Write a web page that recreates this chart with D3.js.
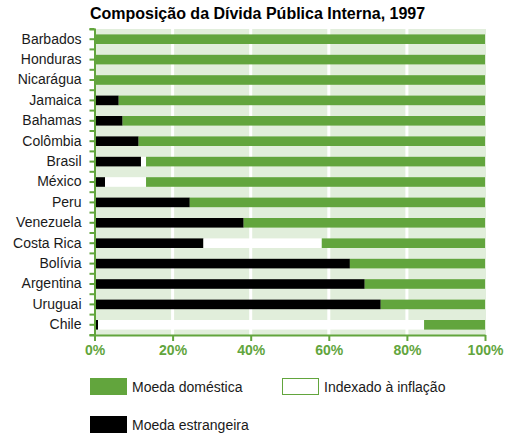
<!DOCTYPE html>
<html lang="pt">
  <head>
    <meta charset="UTF-8" />
    <title>Composição da Dívida Pública Interna, 1997</title>
    <script src="https://d3js.org/d3.v7.min.js"></script>
    <style>
      body {
        margin: 0;
        padding: 0;
        background: #ffffff;
        font-family: "Liberation Sans", Arial, sans-serif;
      }
    </style>
  </head>
  <body>
    <div id="chart"></div>
    <script>
      // data (percent of total)
      const countries = [
        "Barbados", "Honduras", "Nicarágua", "Jamaica", "Bahamas",
        "Colômbia", "Brasil", "México", "Peru", "Venezuela",
        "Costa Rica", "Bolívia", "Argentina", "Uruguai", "Chile"
      ];
      const foreign = [0, 0, 0, 6.2, 7.2, 11.3, 11.9, 2.7, 24.4, 38.2, 27.9, 65.4, 69.2, 73.3, 0.9];
      const indexed = [0, 0, 0, 0, 0, 0, 1.3, 10.5, 0, 0, 30.3, 0, 0, 0, 83.5];
      const domestic = countries.map((c, i) => 100 - foreign[i] - indexed[i]);
      const xTicks = [0, 20, 40, 60, 80, 100];

      const width = 510;
      const height = 444;
      const margin = { top: 29, left: 94.5, right: 25, bottom: 109 };
      const green = "#62a53d";
      const lightGreen = "#e1eedb";

      const svg = d3
        .select("#chart")
        .append("svg")
        .attr("width", width)
        .attr("height", height);

      const x = d3
        .scaleLinear()
        .domain([0, 100])
        .range([margin.left, width - margin.right]);

      const y = d3
        .scaleBand()
        .domain(countries)
        .range([margin.top, height - margin.bottom])
        .paddingInner(0.53)
        .paddingOuter(0.265);

      // title
      svg
        .append("text")
        .attr("x", 257.5)
        .attr("y", 19)
        .attr("text-anchor", "middle")
        .attr("font-size", "16px")
        .attr("font-weight", "bold")
        .attr("fill", "#000")
        .text("Composição da Dívida Pública Interna, 1997");

      // background + white grid lines
      svg
        .append("rect")
        .attr("x", x(0))
        .attr("y", margin.top)
        .attr("width", x(100) - x(0) + 1)
        .attr("height", height - margin.bottom - margin.top)
        .attr("fill", lightGreen);

      svg
        .selectAll(".grid")
        .data(xTicks.slice(1, -1))
        .enter()
        .append("line")
        .attr("x1", (d) => x(d))
        .attr("x2", (d) => x(d))
        .attr("y1", margin.top)
        .attr("y2", height - margin.bottom)
        .attr("stroke", "#fff")
        .attr("stroke-width", 3);

      // stacked bars: foreign, indexed, domestic
      const stackKeys = ["foreign", "indexed", "domestic"];
      const stackColors = { foreign: "#000", indexed: "#fff", domestic: green };
      const rows = countries.map((c, i) => ({
        country: c,
        foreign: foreign[i],
        indexed: indexed[i],
        domestic: domestic[i],
      }));
      const series = d3.stack().keys(stackKeys)(rows);

      svg
        .selectAll(".series")
        .data(series)
        .enter()
        .append("g")
        .attr("fill", (s) => stackColors[s.key])
        .selectAll("rect")
        .data((s) => s)
        .enter()
        .append("rect")
        .attr("x", (d) => x(d[0]))
        .attr("y", (d) => y(d.data.country))
        .attr("width", (d) => Math.max(0, x(d[1]) - x(d[0])))
        .attr("height", y.bandwidth());

      // left axis
      const yAxis = svg
        .append("g")
        .attr("transform", `translate(${x(0)},0)`)
        .call(d3.axisLeft(y).tickSize(5).tickPadding(8));
      yAxis.select(".domain").attr("stroke", green).attr("stroke-width", 2);
      yAxis.selectAll(".tick line").attr("stroke", green).attr("stroke-width", 2);
      yAxis
        .selectAll(".tick text")
        .attr("font-size", "14px")
        .attr("font-family", "Liberation Sans, Arial, sans-serif")
        .attr("fill", "#1a1a1a");

      // boundary ticks between rows
      const bounds = d3.range(countries.length + 1).map(
        (i) => margin.top + (i * (height - margin.bottom - margin.top)) / countries.length
      );
      yAxis
        .selectAll(".btick")
        .data(bounds)
        .enter()
        .append("line")
        .attr("x1", -5)
        .attr("x2", 0)
        .attr("y1", (d) => d)
        .attr("y2", (d) => d)
        .attr("stroke", green)
        .attr("stroke-width", 2);

      // bottom axis
      const xAxis = svg
        .append("g")
        .attr("transform", `translate(0,${height - margin.bottom})`)
        .call(
          d3
            .axisBottom(x)
            .tickValues(xTicks)
            .tickSize(6)
            .tickPadding(4)
            .tickFormat((d) => d + "%")
            .tickSizeOuter(0)
        );
      xAxis.select(".domain").attr("stroke", green).attr("stroke-width", 2);
      xAxis.selectAll(".tick line").attr("stroke", green).attr("stroke-width", 2);
      xAxis
        .selectAll(".tick text")
        .attr("font-size", "14px")
        .attr("font-weight", "bold")
        .attr("font-family", "Liberation Sans, Arial, sans-serif")
        .attr("fill", green);

      // legend
      const legendItems = [
        { label: "Moeda doméstica", fill: green, stroke: green, x: 90, y: 378 },
        { label: "Indexado à inflação", fill: "#fff", stroke: green, x: 282, y: 378 },
        { label: "Moeda estrangeira", fill: "#000", stroke: "#000", x: 90, y: 416 },
      ];
      const legend = svg
        .selectAll(".legend")
        .data(legendItems)
        .enter()
        .append("g")
        .attr("transform", (d) => `translate(${d.x},${d.y})`);
      legend
        .append("rect")
        .attr("x", 0.5)
        .attr("y", 0.5)
        .attr("width", 36)
        .attr("height", 16)
        .attr("fill", (d) => d.fill)
        .attr("stroke", (d) => d.stroke);
      legend
        .append("text")
        .attr("x", 42)
        .attr("y", 13.5)
        .attr("font-size", "14px")
        .attr("fill", "#1a1a1a")
        .text((d) => d.label);
    </script>
  </body>
</html>
